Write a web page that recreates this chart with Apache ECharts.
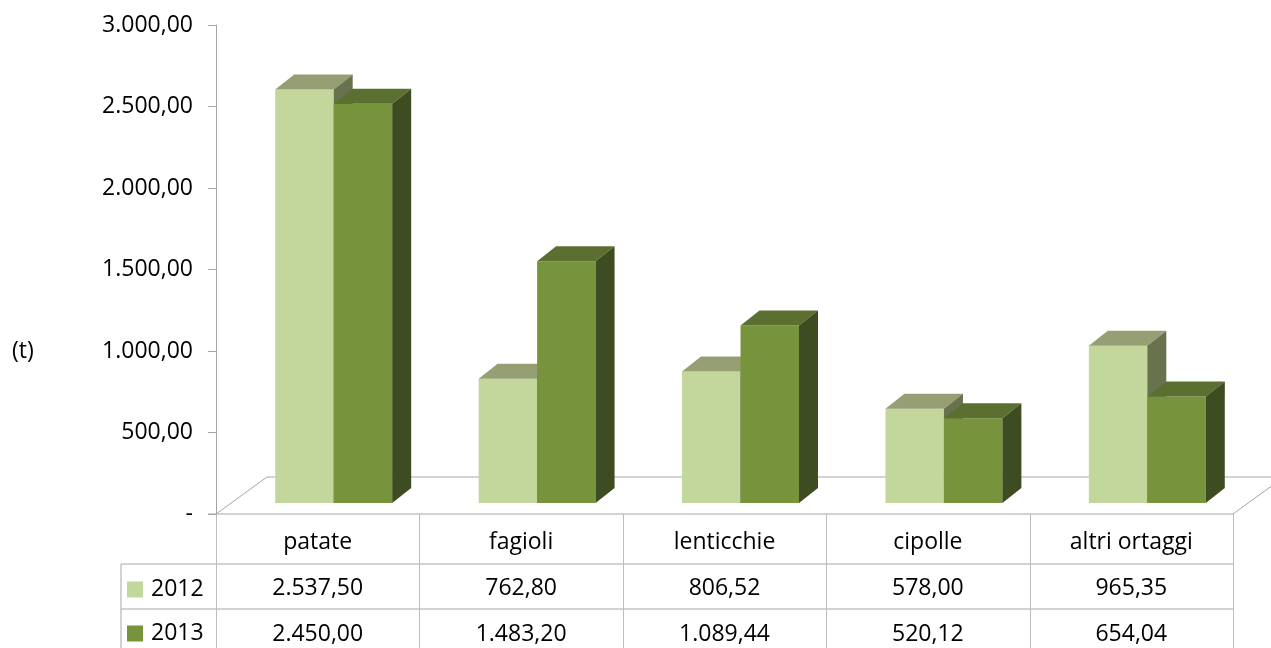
<!DOCTYPE html>
<html>
<head>
<meta charset="utf-8">
<script src="https://cdn.jsdelivr.net/npm/echarts@6/dist/echarts.min.js"></script>
<style>
html,body{margin:0;padding:0;background:#fff;}
#chart{width:1271px;height:648px;}
</style>
</head>
<body>
<div id="chart"></div>
<script>
const categories = ['patate', 'fagioli', 'lenticchie', 'cipolle', 'altri ortaggi'];
const seriesNames = ['2012', '2013'];
const values2012 = [2537.50, 762.80, 806.52, 578.00, 965.35];
const values2013 = [2450.00, 1483.20, 1089.44, 520.12, 654.04];
const yMin = 0, yMax = 3000, yStep = 500;
const unitLabel = '(t)';

const FONT = 'Open Sans';
const FS = 23;
const G = {left: 216, right: 38, top: 25, bottom: 134};
const W = 1271, H = 648;

function fmt(v) {
  if (v === 0) return '-';
  const s = Math.abs(v).toFixed(2).split('.');
  const intPart = s[0].replace(/\B(?=(\d{3})+(?!\d))/g, '.');
  return (v < 0 ? '-' : '') + intPart + ',' + s[1];
}

const palettes = [
  {front: '#C3D69B', top: '#959F73', side: '#69724F'},
  {front: '#77933C', top: '#5B7030', side: '#3E4C21'}
];

function makeRender(sIdx) {
  const pal = palettes[sIdx];
  return function (params, api) {
    const cat = api.value(0), v = api.value(1);
    const b = api.coord([cat, 0]);
    const t = api.coord([cat, v]);
    const band = api.size([1, 0])[0];
    const bw = band * 0.2875;
    const fx = band * 0.0787, fy = -11;
    const dx = 19, dy = -15;
    const x0 = b[0] + fx + (sIdx === 0 ? -bw : 0);
    const yb = b[1] + fy, yt = t[1] + fy;
    return {
      type: 'group',
      children: [
        {type: 'rect', shape: {x: x0, y: yt, width: bw, height: yb - yt}, style: {fill: pal.front}},
        {type: 'polygon', shape: {points: [[x0, yt], [x0 + bw, yt], [x0 + bw + dx, yt + dy], [x0 + dx, yt + dy]]}, style: {fill: pal.top}},
        {type: 'polygon', shape: {points: [[x0 + bw, yt], [x0 + bw + dx, yt + dy], [x0 + bw + dx, yb + dy], [x0 + bw, yb]]}, style: {fill: pal.side}}
      ]
    };
  };
}

// layout of floor + table (geometry only)
const plotL = G.left, plotR = W - G.right, baseY = H - G.bottom;
const colW = (plotR - plotL) / categories.length;
const row1Y = 564, row2Y = 609, legendL = 121;
const floorDX = 51, floorDY = -37;
const lineColor = '#A6A6A6';
const graphics = [];
function line(x1, y1, x2, y2, c) {
  graphics.push({type: 'line', z: 0, shape: {x1, y1, x2, y2}, style: {stroke: c || lineColor, lineWidth: 1}});
}
// floor
line(plotL - 8, baseY, plotR, baseY);
line(plotL, baseY, plotL + floorDX, baseY + floorDY);
line(plotL + floorDX, baseY + floorDY, W, baseY + floorDY);
line(plotR, baseY, plotR + floorDX, baseY + floorDY);
// table
line(legendL, row1Y, plotR, row1Y);
line(legendL, row2Y, plotR, row2Y);
line(legendL, row1Y, legendL, H);
for (let i = 0; i <= categories.length; i++) {
  const x = Math.round(plotL + colW * i) + 0.5;
  line(x, baseY, x, H, '#BDBDBD');
}
graphics.push({type: 'text', left: 12, top: 340, z: 10,
  style: {text: unitLabel, font: FS + 'px "' + FONT + '"', fill: '#000'}});

const rowAxis = (margin, fn) => ({
  type: 'category', data: categories, position: 'bottom', gridIndex: 0,
  axisLine: {show: false}, axisTick: {show: false}, splitLine: {show: false},
  axisLabel: {interval: 0, margin: margin, verticalAlign: 'middle', color: '#000',
    fontFamily: FONT, fontSize: FS, formatter: fn}
});

const legendBase = {
  orient: 'horizontal', left: 127, padding: 0,
  itemWidth: 16, itemHeight: 16, icon: 'rect',
  textStyle: {fontFamily: FONT, fontSize: FS, color: '#000', padding: [0, 0, 0, 3]}
};

const chart = echarts.init(document.getElementById('chart'), null, {renderer: 'canvas'});
chart.setOption({
  animation: false,
  backgroundColor: '#fff',
  textStyle: {fontFamily: FONT},
  grid: G,
  legend: [
    Object.assign({}, legendBase, {data: [seriesNames[0]], top: 578}),
    Object.assign({}, legendBase, {data: [seriesNames[1]], top: 622})
  ],
  xAxis: [
    rowAxis(28, (v) => v),
    rowAxis(74, (v, i) => fmt(values2012[i])),
    rowAxis(120, (v, i) => fmt(values2013[i]))
  ],
  yAxis: {
    type: 'value', min: yMin, max: yMax, interval: yStep,
    axisLine: {show: true, lineStyle: {color: lineColor}},
    axisTick: {show: true, length: 8, lineStyle: {color: lineColor}},
    splitLine: {show: false},
    axisLabel: {margin: 23, color: '#000', fontFamily: FONT, fontSize: FS, formatter: fmt}
  },
  graphic: graphics,
  series: [
    {name: seriesNames[0], type: 'custom', z: 5, itemStyle: {color: palettes[0].front},
     renderItem: makeRender(0), encode: {x: 0, y: 1},
     data: values2012.map((v, i) => [i, v])},
    {name: seriesNames[1], type: 'custom', z: 6, itemStyle: {color: palettes[1].front},
     renderItem: makeRender(1), encode: {x: 0, y: 1},
     data: values2013.map((v, i) => [i, v])}
  ]
});
</script>
</body>
</html>
